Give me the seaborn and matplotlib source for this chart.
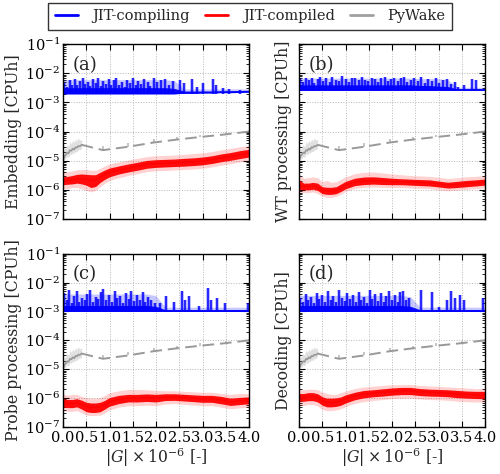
import numpy as np
import matplotlib
matplotlib.use("Agg")
import matplotlib.pyplot as plt
import seaborn as sns
from matplotlib.lines import Line2D
from matplotlib.ticker import LogLocator, NullFormatter, NullLocator

# ---------------- data ----------------
xg = [0.0, 0.1, 0.2, 0.3, 0.4, 0.5, 0.6, 0.7, 0.8, 0.9, 1.0, 1.2, 1.4, 1.6, 1.8,
      2.0, 2.2, 2.4, 2.6, 2.8, 3.0, 3.2, 3.4, 3.6, 3.8, 4.0]

# JIT-compiling (blue): baseline, dense band, light band, spikes
base_a = [2.0e-3, 2.0e-3, 2.0e-3, 2.0e-3, 2.0e-3, 2.0e-3, 2.0e-3, 2.0e-3, 2.0e-3, 2.0e-3,
          2.0e-3, 2.0e-3, 2.0e-3, 2.0e-3, 2.0e-3, 2.0e-3, 2.0e-3, 2.0e-3, 2.1e-3, 2.1e-3,
          2.15e-3, 2.15e-3, 2.2e-3, 2.2e-3, 2.25e-3, 2.3e-3]
dark_a = [3.2e-3, 3.2e-3, 3.2e-3, 3.2e-3, 3.2e-3, 3.2e-3, 3.2e-3, 3.2e-3, 3.2e-3, 3.2e-3,
          3.2e-3, 3.2e-3, 3.2e-3, 3.2e-3, 3.2e-3, 3.2e-3, 3.2e-3, 3.0e-3, 2.45e-3, 2.45e-3,
          2.45e-3, 2.45e-3, 2.5e-3, 2.5e-3, 2.55e-3, 2.6e-3]
light_a = [6.0e-3, 6.0e-3, 6.0e-3, 6.0e-3, 6.0e-3, 6.0e-3, 6.0e-3, 6.0e-3, 6.0e-3, 6.0e-3,
           6.0e-3, 6.0e-3, 6.0e-3, 6.0e-3, 6.0e-3, 6.0e-3, 6.0e-3, 5.5e-3, 2.9e-3, 2.9e-3,
           2.9e-3, 2.9e-3, 2.9e-3, 2.9e-3, 2.9e-3, 2.9e-3]
spike_x_a = [0.03, 0.08, 0.14, 0.19, 0.25, 0.31, 0.36, 0.42, 0.47, 0.53,
             0.58, 0.64, 0.70, 0.75, 0.81, 0.87, 0.92, 0.98, 1.04, 1.10,
             1.15, 1.21, 1.27, 1.33, 1.38, 1.44, 1.50, 1.56, 1.62, 1.68,
             1.75, 1.82, 1.88, 1.95, 2.03, 2.10, 2.19, 2.28, 2.36,
             2.52, 2.60, 2.78, 2.88, 3.02, 3.22, 3.30, 3.45, 3.58, 3.80]
spike_y_a = [4.5e-3, 3.5e-3, 6.0e-3, 4.0e-3, 6.5e-3, 3.8e-3, 5.5e-3, 6.8e-3, 4.2e-3, 5.0e-3,
             3.6e-3, 6.2e-3, 4.8e-3, 6.9e-3, 3.7e-3, 5.6e-3, 4.4e-3, 6.5e-3, 3.9e-3, 5.8e-3,
             6.6e-3, 4.1e-3, 5.2e-3, 3.5e-3, 6.0e-3, 4.6e-3, 6.8e-3, 3.9e-3, 5.4e-3, 4.3e-3,
             6.1e-3, 5.0e-3, 3.6e-3, 6.7e-3, 4.9e-3, 5.9e-3, 6.4e-3, 3.8e-3, 5.5e-3,
             5.8e-3, 4.5e-3, 6.5e-3, 3.5e-3, 4.8e-3, 6.2e-3, 4.0e-3, 3.2e-3, 2.8e-3, 2.6e-3]

base_b = [2.6e-3, 2.6e-3, 2.6e-3, 2.6e-3, 2.6e-3, 2.6e-3, 2.6e-3, 2.6e-3, 2.6e-3, 2.6e-3,
          2.6e-3, 2.6e-3, 2.6e-3, 2.6e-3, 2.6e-3, 2.6e-3, 2.6e-3, 2.6e-3, 2.6e-3, 2.6e-3,
          2.6e-3, 2.6e-3, 2.6e-3, 2.6e-3, 2.6e-3, 2.6e-3]
dark_b = [4.0e-3, 4.0e-3, 4.0e-3, 4.0e-3, 4.0e-3, 4.0e-3, 4.0e-3, 4.0e-3, 4.0e-3, 4.0e-3,
          4.0e-3, 4.0e-3, 4.0e-3, 4.0e-3, 4.0e-3, 4.0e-3, 4.0e-3, 4.0e-3, 3.8e-3, 3.8e-3,
          3.6e-3, 3.5e-3, 2.9e-3, 2.9e-3, 2.9e-3, 2.9e-3]
light_b = [6.8e-3, 6.8e-3, 6.8e-3, 6.8e-3, 6.8e-3, 6.8e-3, 6.8e-3, 6.8e-3, 6.8e-3, 6.8e-3,
           6.8e-3, 6.8e-3, 6.8e-3, 6.8e-3, 6.8e-3, 6.8e-3, 6.8e-3, 6.8e-3, 6.5e-3, 6.5e-3,
           6.5e-3, 6.0e-3, 3.3e-3, 3.3e-3, 3.3e-3, 3.3e-3]
spike_x_b = [0.03, 0.09, 0.15, 0.21, 0.27, 0.33, 0.40, 0.46, 0.52, 0.59,
             0.66, 0.72, 0.79, 0.86, 0.93, 1.00, 1.07, 1.14, 1.21, 1.28,
             1.35, 1.42, 1.49, 1.56, 1.63, 1.70, 1.77, 1.84, 1.91, 1.98,
             2.05, 2.12, 2.19, 2.26, 2.33, 2.40, 2.47, 2.55, 2.62, 2.70,
             2.78, 2.86, 2.94, 3.02, 3.10, 3.18, 3.27, 3.35,
             3.42, 3.55, 3.72, 3.80]
spike_y_b = [6.5e-3, 5.0e-3, 7.0e-3, 5.8e-3, 6.8e-3, 4.5e-3, 6.2e-3, 7.5e-3, 5.5e-3, 6.9e-3,
             5.2e-3, 7.2e-3, 6.0e-3, 5.5e-3, 7.8e-3, 6.4e-3, 5.0e-3, 7.0e-3, 6.6e-3, 5.8e-3,
             7.6e-3, 6.0e-3, 5.4e-3, 7.1e-3, 6.3e-3, 5.0e-3, 6.8e-3, 7.4e-3, 5.6e-3, 6.2e-3,
             7.0e-3, 5.3e-3, 6.6e-3, 7.5e-3, 5.1e-3, 6.0e-3, 6.9e-3, 5.4e-3, 7.2e-3, 4.8e-3,
             6.5e-3, 5.5e-3, 6.8e-3, 4.6e-3, 5.9e-3, 6.3e-3, 4.4e-3, 5.0e-3,
             3.5e-3, 3.8e-3, 6.5e-3, 6.0e-3]

base_c = [1.0e-3, 1.0e-3, 1.0e-3, 1.0e-3, 1.0e-3, 1.0e-3, 1.0e-3, 1.0e-3, 1.0e-3, 1.0e-3,
          1.0e-3, 1.0e-3, 1.0e-3, 1.0e-3, 1.0e-3, 1.0e-3, 1.0e-3, 1.0e-3, 1.0e-3, 1.0e-3,
          1.0e-3, 1.0e-3, 1.0e-3, 1.0e-3, 1.0e-3, 1.0e-3]
dark_c = [1.6e-3, 1.6e-3, 1.6e-3, 1.6e-3, 1.6e-3, 1.6e-3, 1.6e-3, 1.6e-3, 1.6e-3, 1.6e-3,
          1.6e-3, 1.6e-3, 1.6e-3, 1.6e-3, 1.6e-3, 1.5e-3, 1.15e-3, 1.15e-3, 1.15e-3, 1.15e-3,
          1.15e-3, 1.15e-3, 1.15e-3, 1.15e-3, 1.15e-3, 1.15e-3]
light_c = [4.0e-3, 4.0e-3, 4.0e-3, 4.0e-3, 4.0e-3, 4.0e-3, 4.0e-3, 4.0e-3, 4.0e-3, 4.0e-3,
           4.0e-3, 4.0e-3, 4.0e-3, 4.0e-3, 4.0e-3, 3.5e-3, 1.4e-3, 1.4e-3, 1.4e-3, 1.4e-3,
           1.4e-3, 1.4e-3, 1.4e-3, 1.4e-3, 1.4e-3, 1.4e-3]
spike_x_c = [0.03, 0.08, 0.13, 0.19, 0.24, 0.30, 0.35, 0.41, 0.47, 0.52,
             0.58, 0.64, 0.70, 0.76, 0.82, 0.87, 0.93, 0.99, 1.05, 1.11,
             1.17, 1.23, 1.29, 1.35, 1.41, 1.47, 1.53, 1.59, 1.65, 1.71,
             1.77, 1.83, 1.90, 1.97,
             2.08, 2.22, 2.38, 2.55, 2.62, 2.72, 2.92, 3.12, 3.18, 3.32, 3.48, 3.98]
spike_y_c = [4.5e-3, 2.5e-3, 5.5e-3, 2.0e-3, 3.5e-3, 5.0e-3, 2.2e-3, 3.0e-3, 2.5e-3, 4.0e-3,
             5.5e-3, 2.2e-3, 3.2e-3, 2.6e-3, 4.8e-3, 6.0e-3, 2.4e-3, 3.6e-3, 2.1e-3, 5.2e-3,
             2.8e-3, 3.4e-3, 2.0e-3, 4.2e-3, 2.6e-3, 5.0e-3, 2.3e-3, 3.8e-3, 2.5e-3, 4.6e-3,
             2.2e-3, 3.2e-3, 2.4e-3, 2.0e-3,
             2.0e-3, 3.5e-3, 2.2e-3, 5.0e-3, 2.4e-3, 3.5e-3, 1.6e-3, 6.5e-3, 2.5e-3, 3.0e-3, 2.0e-3, 2.0e-3]

base_d = [1.0e-3, 1.0e-3, 1.0e-3, 1.0e-3, 1.0e-3, 1.0e-3, 1.0e-3, 1.0e-3, 1.0e-3, 1.0e-3,
          1.0e-3, 1.0e-3, 1.0e-3, 1.0e-3, 1.0e-3, 1.0e-3, 1.0e-3, 1.0e-3, 1.0e-3, 1.0e-3,
          1.0e-3, 1.0e-3, 1.0e-3, 1.0e-3, 1.0e-3, 1.0e-3]
dark_d = [1.6e-3, 1.6e-3, 1.6e-3, 1.6e-3, 1.6e-3, 1.6e-3, 1.6e-3, 1.6e-3, 1.6e-3, 1.6e-3,
          1.6e-3, 1.6e-3, 1.6e-3, 1.6e-3, 1.6e-3, 1.6e-3, 1.6e-3, 1.5e-3, 1.15e-3, 1.15e-3,
          1.15e-3, 1.15e-3, 1.15e-3, 1.15e-3, 1.15e-3, 1.15e-3]
light_d = [3.6e-3, 3.6e-3, 3.6e-3, 3.6e-3, 3.6e-3, 3.6e-3, 3.6e-3, 3.6e-3, 3.6e-3, 3.6e-3,
           3.6e-3, 3.6e-3, 3.6e-3, 3.6e-3, 3.6e-3, 3.6e-3, 3.6e-3, 3.2e-3, 1.4e-3, 1.4e-3,
           1.4e-3, 1.4e-3, 1.4e-3, 1.4e-3, 1.4e-3, 1.4e-3]
spike_x_d = [0.03, 0.08, 0.14, 0.20, 0.26, 0.32, 0.38, 0.44, 0.50, 0.56,
             0.62, 0.68, 0.74, 0.80, 0.86, 0.92, 0.98, 1.04, 1.10, 1.16,
             1.22, 1.28, 1.34, 1.40, 1.46, 1.52, 1.58, 1.64, 1.70, 1.76,
             1.82, 1.88, 1.94, 2.00, 2.06, 2.12, 2.18, 2.24, 2.30, 2.36,
             2.62, 2.85, 3.00, 3.18, 3.27, 3.36, 3.46, 3.55, 3.95]
spike_y_d = [3.0e-3, 2.2e-3, 4.0e-3, 2.5e-3, 3.2e-3, 2.0e-3, 4.5e-3, 2.6e-3, 3.8e-3, 2.2e-3,
             5.0e-3, 2.4e-3, 3.4e-3, 2.1e-3, 5.6e-3, 3.0e-3, 2.3e-3, 4.2e-3, 2.7e-3, 3.6e-3,
             2.2e-3, 4.8e-3, 2.5e-3, 3.1e-3, 2.0e-3, 5.4e-3, 2.6e-3, 3.9e-3, 2.3e-3, 4.4e-3,
             2.1e-3, 3.3e-3, 5.0e-3, 2.4e-3, 3.7e-3, 2.2e-3, 4.6e-3, 5.2e-3, 2.5e-3, 2.8e-3,
             5.5e-3, 4.8e-3, 1.4e-3, 2.5e-3, 5.0e-3, 3.0e-3, 3.8e-3, 2.4e-3, 2.8e-3]

# JIT-compiled (red): mean, dense band, light band
red_a = [2.0e-6, 2.1e-6, 2.2e-6, 2.4e-6, 2.4e-6, 2.3e-6, 2.1e-6, 2.2e-6, 2.8e-6, 3.4e-6, 4.0e-6, 4.8e-6, 5.6e-6,
         6.4e-6, 7.5e-6, 8.0e-6, 8.2e-6, 8.4e-6, 8.8e-6, 9.2e-6, 9.8e-6, 1.08e-5, 1.25e-5, 1.4e-5, 1.6e-5, 1.8e-5]
rlo_a = [1.5e-6, 1.55e-6, 1.6e-6, 1.7e-6, 1.6e-6, 1.45e-6, 1.2e-6, 1.3e-6, 1.8e-6, 2.3e-6, 2.8e-6, 3.5e-6, 4.1e-6,
         4.7e-6, 5.5e-6, 5.9e-6, 6.1e-6, 6.3e-6, 6.5e-6, 6.8e-6, 7.2e-6, 8.0e-6, 9.2e-6, 1.03e-5, 1.18e-5, 1.33e-5]
rhi_a = [2.8e-6, 2.9e-6, 3.1e-6, 3.4e-6, 3.5e-6, 3.4e-6, 3.3e-6, 3.3e-6, 4.0e-6, 4.8e-6, 5.6e-6, 6.6e-6, 7.7e-6,
         8.8e-6, 1.02e-5, 1.08e-5, 1.11e-5, 1.14e-5, 1.2e-5, 1.25e-5, 1.33e-5, 1.47e-5, 1.7e-5, 1.9e-5, 2.2e-5, 2.45e-5]
plo_a = [1.1e-6, 1.1e-6, 1.2e-6, 1.2e-6, 1.1e-6, 0.95e-6, 0.85e-6, 0.95e-6, 1.3e-6, 1.7e-6, 2.1e-6, 2.6e-6, 3.1e-6,
         3.6e-6, 4.2e-6, 4.5e-6, 4.6e-6, 4.8e-6, 5.0e-6, 5.2e-6, 5.5e-6, 6.1e-6, 7.0e-6, 7.8e-6, 9.0e-6, 1.0e-5]
phi_a = [4.0e-6, 4.2e-6, 4.4e-6, 4.9e-6, 5.0e-6, 5.0e-6, 4.7e-6, 4.7e-6, 5.5e-6, 6.6e-6, 7.8e-6, 9.0e-6, 1.05e-5,
         1.2e-5, 1.38e-5, 1.48e-5, 1.52e-5, 1.56e-5, 1.65e-5, 1.75e-5, 1.85e-5, 2.05e-5, 2.35e-5, 2.65e-5, 3.0e-5, 3.3e-5]

red_b = [1.5e-6, 1.3e-6, 1.3e-6, 1.35e-6, 1.25e-6, 0.95e-6, 0.9e-6, 0.9e-6, 0.95e-6, 1.15e-6, 1.45e-6, 1.85e-6, 2.0e-6,
         2.05e-6, 2.0e-6, 1.95e-6, 1.9e-6, 1.85e-6, 1.8e-6, 1.75e-6, 1.6e-6, 1.45e-6, 1.55e-6, 1.65e-6, 1.75e-6, 1.85e-6]
rlo_b = [1.05e-6, 1.0e-6, 1.0e-6, 1.05e-6, 0.95e-6, 0.74e-6, 0.7e-6, 0.7e-6, 0.74e-6, 0.88e-6, 1.08e-6, 1.4e-6, 1.52e-6,
         1.57e-6, 1.52e-6, 1.5e-6, 1.5e-6, 1.45e-6, 1.4e-6, 1.36e-6, 1.26e-6, 1.15e-6, 1.2e-6, 1.28e-6, 1.36e-6, 1.45e-6]
rhi_b = [2.2e-6, 1.7e-6, 1.7e-6, 1.8e-6, 1.7e-6, 1.28e-6, 1.22e-6, 1.22e-6, 1.28e-6, 1.58e-6, 1.95e-6, 2.5e-6, 2.75e-6,
         2.8e-6, 2.65e-6, 2.5e-6, 2.4e-6, 2.32e-6, 2.25e-6, 2.2e-6, 2.0e-6, 1.82e-6, 1.95e-6, 2.1e-6, 2.2e-6, 2.35e-6]
plo_b = [0.85e-6, 0.8e-6, 0.8e-6, 0.85e-6, 0.75e-6, 0.6e-6, 0.55e-6, 0.55e-6, 0.6e-6, 0.7e-6, 0.88e-6, 1.12e-6, 1.22e-6,
         1.26e-6, 1.22e-6, 1.2e-6, 1.2e-6, 1.16e-6, 1.12e-6, 1.1e-6, 1.0e-6, 0.92e-6, 0.98e-6, 1.04e-6, 1.1e-6, 1.16e-6]
phi_b = [3.5e-6, 2.5e-6, 2.6e-6, 2.8e-6, 2.6e-6, 1.9e-6, 2.1e-6, 1.8e-6, 1.9e-6, 2.3e-6, 2.8e-6, 3.6e-6, 4.0e-6,
         4.1e-6, 3.8e-6, 3.5e-6, 3.3e-6, 3.1e-6, 3.0e-6, 2.9e-6, 2.7e-6, 2.45e-6, 2.6e-6, 2.8e-6, 2.9e-6, 3.1e-6]

red_c = [7.0e-7, 6.5e-7, 6.5e-7, 7.0e-7, 6.0e-7, 5.0e-7, 4.8e-7, 4.8e-7, 5.0e-7, 6.0e-7, 7.5e-7, 9.0e-7, 1.0e-6,
         1.0e-6, 1.05e-6, 1.0e-6, 1.1e-6, 1.1e-6, 1.05e-6, 1.0e-6, 9.5e-7, 9.5e-7, 8.5e-7, 7.5e-7, 8.0e-7, 8.5e-7]
rlo_c = [5.0e-7, 4.7e-7, 4.7e-7, 5.0e-7, 4.2e-7, 3.4e-7, 3.2e-7, 3.2e-7, 3.4e-7, 4.2e-7, 5.3e-7, 6.5e-7, 7.4e-7,
         7.4e-7, 7.7e-7, 7.4e-7, 8.3e-7, 8.4e-7, 8.0e-7, 7.6e-7, 7.2e-7, 7.2e-7, 6.4e-7, 5.6e-7, 6.0e-7, 6.4e-7]
rhi_c = [9.6e-7, 9.0e-7, 9.0e-7, 9.6e-7, 8.5e-7, 7.2e-7, 6.8e-7, 6.8e-7, 7.2e-7, 8.4e-7, 1.05e-6, 1.25e-6, 1.35e-6,
         1.35e-6, 1.4e-6, 1.35e-6, 1.42e-6, 1.42e-6, 1.36e-6, 1.3e-6, 1.25e-6, 1.25e-6, 1.15e-6, 1.0e-6, 1.06e-6, 1.1e-6]
plo_c = [3.7e-7, 3.5e-7, 3.5e-7, 3.7e-7, 3.1e-7, 2.6e-7, 2.5e-7, 2.5e-7, 2.6e-7, 3.1e-7, 3.9e-7, 4.9e-7, 5.5e-7,
         5.5e-7, 5.7e-7, 5.5e-7, 6.3e-7, 6.5e-7, 6.1e-7, 5.8e-7, 5.5e-7, 5.5e-7, 4.9e-7, 4.3e-7, 4.6e-7, 4.9e-7]
phi_c = [1.45e-6, 1.25e-6, 1.35e-6, 1.35e-6, 1.15e-6, 1.05e-6, 1.0e-6, 1.0e-6, 1.05e-6, 1.25e-6, 1.55e-6, 1.8e-6, 2.0e-6,
         2.0e-6, 1.95e-6, 1.85e-6, 1.8e-6, 1.8e-6, 1.72e-6, 1.66e-6, 1.6e-6, 1.6e-6, 1.45e-6, 1.35e-6, 1.45e-6, 1.45e-6]

red_d = [1.1e-6, 1.1e-6, 1.15e-6, 1.15e-6, 1.05e-6, 8.0e-7, 7.0e-7, 7.0e-7, 7.2e-7, 8.0e-7, 9.5e-7, 1.2e-6, 1.4e-6,
         1.5e-6, 1.6e-6, 1.7e-6, 1.8e-6, 1.8e-6, 1.65e-6, 1.6e-6, 1.55e-6, 1.5e-6, 1.4e-6, 1.35e-6, 1.3e-6, 1.3e-6]
rlo_d = [7.8e-7, 7.8e-7, 8.2e-7, 8.2e-7, 7.4e-7, 5.7e-7, 5.0e-7, 5.0e-7, 5.2e-7, 5.7e-7, 6.8e-7, 8.8e-7, 1.03e-6,
         1.12e-6, 1.18e-6, 1.27e-6, 1.33e-6, 1.33e-6, 1.23e-6, 1.18e-6, 1.16e-6, 1.12e-6, 1.04e-6, 1.0e-6, 9.7e-7, 9.7e-7]
rhi_d = [1.45e-6, 1.45e-6, 1.55e-6, 1.55e-6, 1.42e-6, 1.12e-6, 1.0e-6, 1.0e-6, 1.02e-6, 1.1e-6, 1.3e-6, 1.6e-6, 1.85e-6,
         1.95e-6, 2.1e-6, 2.25e-6, 2.35e-6, 2.35e-6, 2.15e-6, 2.05e-6, 2.0e-6, 1.95e-6, 1.85e-6, 1.76e-6, 1.72e-6, 1.72e-6]
plo_d = [5.6e-7, 5.6e-7, 6.0e-7, 6.0e-7, 5.3e-7, 4.1e-7, 3.7e-7, 3.7e-7, 3.9e-7, 4.3e-7, 5.1e-7, 6.6e-7, 7.6e-7,
         8.4e-7, 8.9e-7, 9.6e-7, 1.0e-6, 1.0e-6, 9.3e-7, 8.9e-7, 8.8e-7, 8.4e-7, 7.9e-7, 7.5e-7, 7.3e-7, 7.3e-7]
phi_d = [2.1e-6, 1.95e-6, 2.05e-6, 2.05e-6, 1.95e-6, 1.65e-6, 1.45e-6, 1.35e-6, 1.35e-6, 1.55e-6, 1.75e-6, 2.15e-6, 2.45e-6,
         2.6e-6, 2.75e-6, 2.9e-6, 2.95e-6, 2.95e-6, 2.75e-6, 2.65e-6, 2.55e-6, 2.45e-6, 2.35e-6, 2.25e-6, 2.15e-6, 2.15e-6]

# PyWake (gray)
gray_x = [0.0, 0.03, 0.06, 0.09, 0.12, 0.15, 0.18, 0.21, 0.24, 0.27, 0.30, 0.33, 0.36, 0.40,
          0.86, 1.40, 1.95, 2.45, 2.95, 3.50, 4.00]
gray_y = [1.0e-5, 1.4e-5, 1.6e-5, 1.9e-5, 1.8e-5, 2.3e-5, 2.2e-5, 2.6e-5, 2.4e-5, 2.9e-5, 2.8e-5, 3.2e-5, 3.1e-5, 3.5e-5,
          2.3e-5, 3.0e-5, 4.2e-5, 5.3e-5, 6.5e-5, 8.0e-5, 1.0e-4]
gray_lo = [0.9e-5, 1.1e-5, 1.2e-5, 1.4e-5, 1.3e-5, 1.7e-5, 1.6e-5, 1.9e-5, 1.8e-5, 2.1e-5, 2.0e-5, 2.4e-5, 2.3e-5, 2.8e-5,
           2.3e-5, 3.0e-5, 4.2e-5, 5.3e-5, 6.5e-5, 8.0e-5, 1.0e-4]
gray_hi = [1.2e-5, 2.5e-5, 2.8e-5, 3.5e-5, 3.0e-5, 4.5e-5, 3.8e-5, 5.0e-5, 4.2e-5, 5.5e-5, 4.8e-5, 6.0e-5, 5.0e-5, 5.5e-5,
           3.2e-5, 4.0e-5, 5.5e-5, 6.6e-5, 7.8e-5, 9.6e-5, 1.15e-4]

panel_tags = ["(a)", "(b)", "(c)", "(d)"]
ylabels = ["Embedding [CPUh]", "WT processing [CPUh]", "Probe processing [CPUh]", "Decoding [CPUh]"]
blue_floor = [2.0e-3, 2.6e-3, 1.0e-3, 1.0e-3]
xticks = [0.0, 0.5, 1.0, 1.5, 2.0, 2.5, 3.0, 3.5, 4.0]
legend_labels = ["JIT-compiling", "JIT-compiled", "PyWake"]

panels = [
    (base_a, dark_a, light_a, spike_x_a, spike_y_a, red_a, rlo_a, rhi_a, plo_a, phi_a),
    (base_b, dark_b, light_b, spike_x_b, spike_y_b, red_b, rlo_b, rhi_b, plo_b, phi_b),
    (base_c, dark_c, light_c, spike_x_c, spike_y_c, red_c, rlo_c, rhi_c, plo_c, phi_c),
    (base_d, dark_d, light_d, spike_x_d, spike_y_d, red_d, rlo_d, rhi_d, plo_d, phi_d),
]

# ---------------- style ----------------
sns.set_theme(style="ticks")
plt.rcParams.update({
    "font.family": ["DejaVu Serif"],
    "mathtext.fontset": "dejavuserif",
    "xtick.direction": "in", "ytick.direction": "in",
    "xtick.top": True, "ytick.right": True,
    "xtick.major.size": 4, "ytick.major.size": 4,
    "ytick.minor.size": 2, "xtick.minor.size": 2,
    "xtick.major.width": 0.8, "ytick.major.width": 0.8,
    "ytick.minor.width": 0.6,
    "axes.linewidth": 1.0, "axes.edgecolor": "black",
    "xtick.color": "black", "ytick.color": "black",
    "xtick.labelsize": 10.5, "ytick.labelsize": 10.5,
    "axes.labelsize": 11.3,
})

BLUE = "#0000ff"
RED = "#ff0000"
GRAY = "#999999"

fig = plt.figure(figsize=(5.0, 4.74), dpi=100)
rects = [
    [0.126, 0.538, 0.372, 0.369],
    [0.598, 0.538, 0.372, 0.369],
    [0.126, 0.099, 0.372, 0.366],
    [0.598, 0.099, 0.372, 0.366],
]

for i, (rect, data) in enumerate(zip(rects, panels)):
    base, dark, light, sx, sy, red, rlo, rhi, plo, phi = data
    ax = fig.add_axes(rect)
    ax.set_yscale("log")

    # JIT-compiling
    ax.fill_between(xg, base, light, color=BLUE, alpha=0.22, lw=0)
    ax.vlines(sx, blue_floor[i], sy, color=BLUE, alpha=0.3, lw=2.6)
    ax.vlines(sx, blue_floor[i], sy, color=BLUE, lw=1.1)
    ax.fill_between(xg, base, dark, color=BLUE, alpha=0.95, lw=0)
    sns.lineplot(x=xg, y=base, ax=ax, color=BLUE, lw=1.2)

    # JIT-compiled
    ax.fill_between(xg, plo, phi, color=RED, alpha=0.18, lw=0)
    ax.fill_between(xg, rlo, rhi, color=RED, alpha=0.95, lw=0)
    sns.lineplot(x=xg, y=red, ax=ax, color=RED, lw=1.0)

    # PyWake
    ax.fill_between(gray_x[:14], gray_lo[:14], gray_hi[:14], color=GRAY, alpha=0.3, lw=0)
    ax.vlines(gray_x[14:], gray_y[14:], gray_hi[14:], color="#bbbbbb", lw=1.2)
    sns.lineplot(x=gray_x[:14], y=gray_y[:14], ax=ax, color=GRAY, lw=1.2)
    sns.lineplot(x=gray_x[13:], y=gray_y[13:], ax=ax, color=GRAY, lw=1.4,
                 linestyle=(0, (6, 3)))

    ax.set_xlim(0, 4)
    ax.set_ylim(1e-7, 1e-1)
    ax.set_xticks(xticks)
    ax.xaxis.set_minor_locator(NullLocator())
    ax.yaxis.set_major_locator(LogLocator(base=10, numticks=20))
    ax.yaxis.set_minor_locator(LogLocator(base=10, subs=np.arange(2, 10), numticks=20))
    ax.yaxis.set_minor_formatter(NullFormatter())
    ax.grid(True, which="major", ls=":", color="#b8b8b8", lw=0.7)
    ax.set_axisbelow(True)

    ax.set_ylabel(ylabels[i], labelpad=2)
    if i in (1, 3):
        ax.tick_params(axis="y", labelleft=False)
    if i in (0, 1):
        ax.tick_params(axis="x", labelbottom=False)
        ax.set_xlabel("")
    else:
        ax.set_xticklabels([f"{t:.1f}" for t in xticks])
        ax.set_xlabel(r"$|G| \times 10^{-6}$ [-]", labelpad=1)
    ax.tick_params(axis="y", which="major", pad=2)
    ax.tick_params(axis="x", which="major", pad=3)
    ax.text(0.05, 0.88, panel_tags[i], transform=ax.transAxes, fontsize=13,
            va="center", ha="left")

handles = [Line2D([], [], color=BLUE, lw=2),
           Line2D([], [], color=RED, lw=2),
           Line2D([], [], color="#a0a0a0", lw=2)]
leg = fig.legend(handles, legend_labels, loc="lower left", ncol=3,
                 bbox_to_anchor=(0.096, 0.937, 0.808, 0.053), mode="expand",
                 frameon=True, fancybox=False, edgecolor="black", fontsize=10.5,
                 handlelength=1.6, handletextpad=1.0, borderaxespad=0, borderpad=0.45)
leg.get_frame().set_linewidth(1.0)

fig.savefig("out.png", dpi=100)
